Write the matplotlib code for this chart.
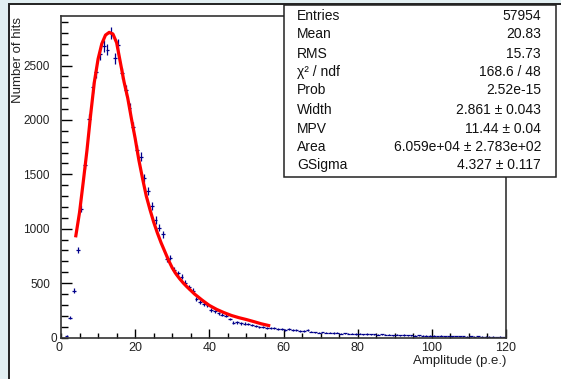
import numpy as np
import matplotlib
matplotlib.use("Agg")
import matplotlib.pyplot as plt
from matplotlib.patches import Rectangle
from matplotlib.ticker import MultipleLocator

# histogram: bin centres 0.5 .. 119.5, counts
bin_centers = np.arange(0.5, 120.0, 1.0)
counts = [
    0, 15, 182, 430, 805, 1185, 1586, 2010, 2300, 2437,
    2605, 2680, 2644, 2800, 2567, 2690, 2430, 2276, 2108, 1938,
    1724, 1662, 1467, 1345, 1210, 1080, 1010, 950, 718, 735,
    621, 590, 559, 505, 460, 430, 350, 329, 310, 299,
    253, 240, 222, 210, 198, 170, 136, 140, 130, 128,
    124, 115, 106, 100, 98, 90, 88, 85, 80, 82,
    72, 75, 70, 68, 60, 62, 68, 55, 48, 45,
    46, 44, 45, 42, 44, 35, 38, 36, 35, 33,
    34, 30, 32, 28, 30, 27, 30, 24, 26, 22,
    24, 20, 23, 19, 21, 17, 19, 16, 18, 15,
    16, 14, 15, 12, 14, 11, 13, 10, 12, 9,
    11, 9, 10, 8, 9, 7, 8, 6, 7, 6,
]

# fitted curve
fit_x = [4, 5, 6, 7, 8, 9, 10, 11, 12, 13, 14, 15, 16, 17, 18, 19, 20,
         21, 22, 23, 24, 25, 26, 27, 28, 29, 30, 31, 32, 33, 34, 36, 38,
         40, 42, 44, 46, 48, 50, 52, 54, 56]
fit_y = [935, 1150, 1430, 1720, 2050, 2350, 2560, 2700, 2780, 2805, 2790,
         2710, 2530, 2350, 2200, 2010, 1830, 1630, 1460, 1300, 1175, 1060,
         960, 870, 790, 710, 640, 585, 540, 500, 465, 400, 345, 295, 258,
         228, 202, 182, 165, 146, 126, 110]

stat_names = ["Entries", "Mean", "RMS", "\u03c7\u00b2 / ndf", "Prob", "Width",
              "MPV", "Area", "GSigma"]
stat_values = ["57954", "20.83", "15.73", "168.6 / 48", "2.52e-15",
               "2.861 \u00b1 0.043", "11.44 \u00b1 0.04",
               "6.059e+04 \u00b1 2.783e+02", "4.327 \u00b1 0.117"]

W, H = 561, 379
plt.rcParams["font.family"] = ["Liberation Sans", "DejaVu Sans"]
fig = plt.figure(figsize=(W / 100, H / 100), dpi=100)
fig.patch.set_facecolor("#e2eff2")


def fx(x):
    return x / W


def fy(y):
    return 1 - y / H


# white pad with dark border on top / left
fig.add_artist(Rectangle((fx(9), fy(H + 10)), fx(W + 10), (H + 10 - 4) / H,
                         transform=fig.transFigure, facecolor="white",
                         edgecolor="#222222", lw=1.4, zorder=0))

ax = fig.add_axes([fx(61), fy(337.5), fx(506 - 61), (337.5 - 15.5) / H])
ax.set_facecolor("white")

ax.errorbar(bin_centers, counts, xerr=0.5, yerr=np.sqrt(counts), fmt="none",
            ecolor="#00008b", elinewidth=0.9, capsize=0, zorder=2)
ax.plot(fit_x, fit_y, color="red", lw=2.3, zorder=3)

ax.set_xlim(0, 120)
ax.set_ylim(0, 2960)
ax.xaxis.set_major_locator(MultipleLocator(20))
ax.xaxis.set_minor_locator(MultipleLocator(5))
ax.yaxis.set_major_locator(MultipleLocator(500))
ax.yaxis.set_minor_locator(MultipleLocator(100))
ax.tick_params(axis="x", which="major", direction="in", length=6.5, width=1,
               labelsize=9, pad=3)
ax.tick_params(axis="x", which="minor", direction="in", length=3.4, width=1)
ax.tick_params(axis="y", which="major", direction="in", length=8, width=1,
               labelsize=8.5, pad=8)
ax.tick_params(axis="y", which="minor", direction="in", length=4.8, width=1)
for s in ax.spines.values():
    s.set_color("#333333")
    s.set_linewidth(1.2)

# zeros are drawn separately, ROOT style
ax.set_xticks([20, 40, 60, 80, 100, 120])
ax.set_yticks([500, 1000, 1500, 2000, 2500])
for lab in ax.get_yticklabels():
    lab.set_family(["Liberation Sans Narrow", "Liberation Sans"])
    lab.set_color("#222222")
for lab in ax.get_xticklabels():
    lab.set_color("#222222")
fig.text(fx(57), fy(339), "0", ha="right", va="center", fontsize=8.5,
         color="#222222")
fig.text(fx(59), fy(342), "0", ha="center", va="top", fontsize=9,
         color="#222222")

fig.text(fx(506), fy(361), "Amplitude (p.e.)", ha="right", va="center",
         fontsize=9.5, color="#222222")
fig.text(fx(18), fy(17), "Number of hits", ha="center", va="top",
         rotation=90, fontsize=9.5, color="#222222")

# stats box
fig.add_artist(Rectangle((fx(284), fy(177)), fx(556 - 284), (177 - 5) / H,
                         transform=fig.transFigure, facecolor="white",
                         edgecolor="#222222", lw=1.1, zorder=5))
row_y = [16, 34.5, 53.5, 72, 90.5, 110, 128.5, 147, 165]
for name, val, y in zip(stat_names, stat_values, row_y):
    fig.text(fx(297), fy(y), name, ha="left", va="center", fontsize=10,
             color="#111111", zorder=6)
    fig.text(fx(541), fy(y), val, ha="right", va="center", fontsize=10,
             color="#111111", zorder=6)

fig.savefig("out.png", dpi=100, facecolor=fig.get_facecolor())
